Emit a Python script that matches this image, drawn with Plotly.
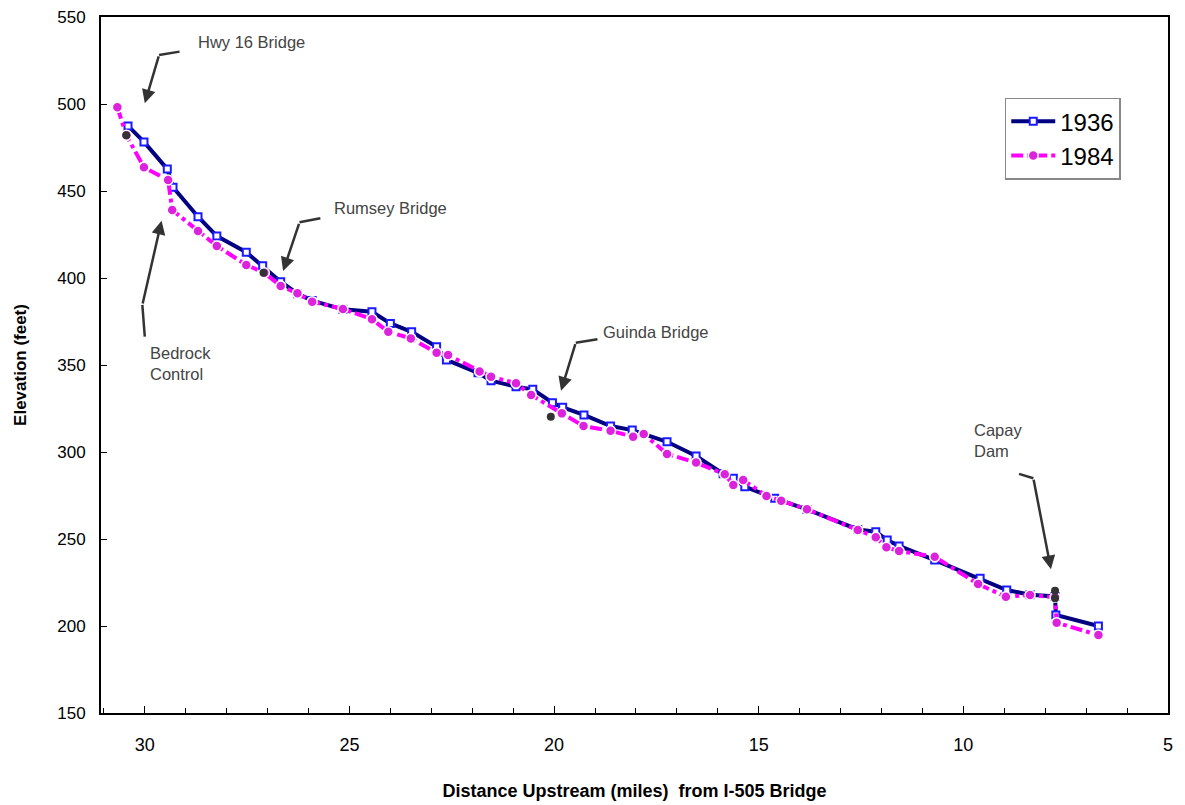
import plotly.graph_objects as go

# --- data ---
miles_1936 = [30.41, 30.02, 29.45, 29.31, 28.70, 28.24, 27.52, 27.12, 26.68, 26.27,
              25.91, 25.16, 24.45, 24.00, 23.48, 22.87, 22.63, 21.86, 21.54, 20.93,
              20.52, 20.04, 19.79, 19.27, 18.62, 18.09, 17.24, 16.53, 15.87, 15.62,
              15.34, 14.61, 13.82, 12.58, 12.14, 11.86, 11.57, 10.70, 9.59, 8.94,
              8.37, 7.76, 7.74, 6.70]
elev_1936 = [487.4, 478.2, 462.6, 452.1, 435.2, 424.1, 414.8, 407.1, 397.9, 391.0,
             387.0, 382.0, 380.6, 373.9, 369.1, 360.5, 352.9, 345.5, 341.0, 337.5,
             336.0, 328.3, 325.7, 321.3, 314.9, 312.6, 305.9, 297.7, 287.5, 284.9,
             280.1, 273.4, 267.0, 255.5, 254.2, 249.4, 246.0, 237.9, 227.4, 220.7,
             218.0, 217.0, 206.3, 200.0]

miles_1984 = [30.67, 30.45, 30.02, 29.43, 29.33, 28.70, 28.24, 27.52, 27.08, 26.68,
              26.27, 25.91, 25.16, 24.45, 24.05, 23.50, 22.87, 22.59, 21.82, 21.54,
              20.93, 20.56, 19.81, 19.28, 18.62, 18.07, 17.81, 17.24, 16.53, 15.83,
              15.62, 15.38, 14.81, 14.45, 13.82, 12.58, 12.14, 11.88, 11.57, 10.70,
              9.64, 8.96, 8.37, 7.76, 7.72, 6.70]
elev_1984 = [498.1, 482.0, 463.6, 456.3, 439.1, 427.0, 418.4, 407.5, 403.0, 395.4,
             391.2, 386.4, 382.2, 376.3, 369.1, 365.3, 357.1, 355.7, 346.2, 343.3,
             339.5, 332.8, 322.2, 314.9, 312.2, 308.8, 310.3, 298.9, 293.9, 287.2,
             281.0, 283.9, 274.7, 272.0, 267.1, 255.2, 251.0, 245.2, 243.1, 239.8,
             224.1, 216.8, 217.8, 216.5, 201.9, 194.8]

# survey reference points (black dots)
miles_ref = [30.45, 27.10, 20.08, 7.76, 7.76]
elev_ref = [482.0, 403.0, 320.3, 220.3, 215.9]

x_ticks = [30, 25, 20, 15, 10, 5]
y_ticks = [150, 200, 250, 300, 350, 400, 450, 500, 550]

NARROW = "Liberation Sans Narrow, Arial Narrow, Liberation Sans, Arial"
ARIAL = "Liberation Sans, Arial"

fig = go.Figure()
fig.add_trace(go.Scatter(
    x=miles_1936, y=elev_1936, name="1936", mode="lines+markers",
    line=dict(color="#000080", width=4),
    marker=dict(symbol="square", size=7, color="white",
                line=dict(color="#1a1aff", width=2)),
))
fig.add_trace(go.Scatter(
    x=miles_1984, y=elev_1984, name="1984", mode="lines+markers",
    line=dict(color="#ff00ff", width=4, dash="dashdot"),
    marker=dict(symbol="circle", size=10, color="#dd22dd",
                line=dict(color="white", width=1.5)),
))
fig.add_trace(go.Scatter(
    x=miles_ref, y=elev_ref, mode="markers", showlegend=False,
    marker=dict(symbol="circle", size=8, color="#333333"),
))

ann_color = "#333333"
callouts = [
    ("Hwy 16 Bridge", 28.74, 535.8, [(29.15, 530.1), (29.65, 528.2), (30.0, 500.4)]),
    ("Rumsey Bridge", 25.42, 440.1, [(25.71, 434.3), (26.22, 432.0), (26.62, 404.0)]),
    ("Guinda Bridge", 18.85, 369.1, [(18.94, 364.8), (19.47, 362.8), (19.83, 335.2)]),
    ("Bedrock<br>Control", 29.92, 351.0, [(30.0, 366.3), (30.06, 384.5), (29.59, 432.9)]),
    ("Capay<br>Dam", 9.79, 306.6, [(8.64, 287.4), (8.29, 284.9), (7.86, 232.6)]),
]
for text, tx, ty, pts in callouts:
    fig.add_annotation(x=tx, y=ty, text=text, showarrow=False, xanchor="left",
                       yanchor="middle", align="left",
                       font=dict(family=ARIAL, size=16.5, color="#444444"))
    (x0, y0), (x1, y1), (x2, y2) = pts
    fig.add_shape(type="line", x0=x0, y0=y0, x1=x1, y1=y1,
                  line=dict(color=ann_color, width=2.5), layer="above")
    fig.add_annotation(x=x2, y=y2, ax=x1, ay=y1, axref="x", ayref="y",
                       xref="x", yref="y", text="", showarrow=True,
                       arrowhead=2, arrowsize=1.1, arrowwidth=2.5,
                       arrowcolor=ann_color)

fig.update_layout(
    width=1185, height=805,
    margin=dict(l=101, r=17, t=17, b=92, autoexpand=False),
    plot_bgcolor="white", paper_bgcolor="white",
    font=dict(family=ARIAL, color="black"),
    legend=dict(x=0.847, y=0.884, xanchor="left", yanchor="top",
                bordercolor="#888888", borderwidth=1.5, bgcolor="white",
                font=dict(family=ARIAL, size=24, color="black"),
                itemwidth=44, tracegroupgap=0),
    showlegend=True,
)
fig.update_xaxes(
    range=[31.07, 5.0], tickvals=x_ticks, ticktext=[str(v) for v in x_ticks],
    ticks="inside", ticklen=7, tickcolor="black", tickwidth=1,
    minor=dict(dtick=1, ticks="inside", ticklen=5, tickcolor="black"),
    ticklabelstandoff=14, automargin=False,
    tickfont=dict(family=NARROW, size=18),
    showline=True, linecolor="black", linewidth=2, mirror=True,
    showgrid=False, zeroline=False,
    title=dict(text="<b>Distance Upstream (miles)  from I-505 Bridge</b>",
               font=dict(family=NARROW, size=18), standoff=31),
)
fig.update_yaxes(
    range=[150, 550], tickvals=y_ticks,
    ticks="inside", ticklen=6, tickcolor="black",
    ticklabelstandoff=10, automargin=False,
    tickfont=dict(family=ARIAL, size=17),
    showline=True, linecolor="black", linewidth=2, mirror=True,
    showgrid=False, zeroline=False,
    title=dict(text="<b>Elevation (feet)</b>", font=dict(family=NARROW, size=17),
               standoff=26),
)

fig.write_html("out.html")
